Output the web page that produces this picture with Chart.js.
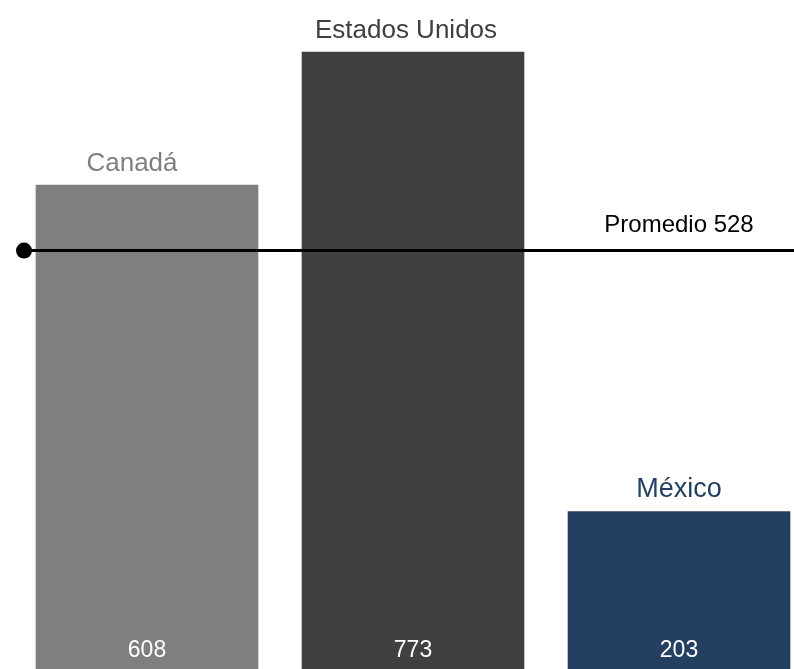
<!DOCTYPE html>
<html>
<head>
<meta charset="utf-8">
<script src="https://cdn.jsdelivr.net/npm/chart.js@4/dist/chart.umd.min.js"></script>
<style>
  html, body { margin: 0; padding: 0; background: #fff; }
  #wrap { width: 794px; height: 669px; }
</style>
</head>
<body>
<div id="wrap"><canvas id="paisesChart" width="794" height="669"></canvas></div>
<script>
var paises = ['Canadá', 'Estados Unidos', 'México'];
var valores = [608, 773, 203];
var colores = ['#7f7f7f', '#404040', '#243f60'];
var fuentesPais = [26, 26, 27];
var desplazamientoPais = [-15, -7, 0]; // corrimiento horizontal del nombre sobre la barra

var promedio = Math.round(valores.reduce(function (a, b) { return a + b; }, 0) / valores.length);

// Etiquetas de país encima de cada barra, valor dentro en la base y línea del promedio
var etiquetasPlugin = {
    id: 'etiquetas',
    afterDatasetsDraw: function (chart) {
        var ctx = chart.ctx;
        var meta = chart.getDatasetMeta(0);
        var yScale = chart.scales.y;
        var area = chart.chartArea;
        ctx.save();
        ctx.textAlign = 'center';
        meta.data.forEach(function (bar, i) {
            ctx.fillStyle = colores[i];
            ctx.font = fuentesPais[i] + 'px "Liberation Sans", Arial, sans-serif';
            ctx.textBaseline = 'bottom';
            ctx.fillText(paises[i], bar.x + desplazamientoPais[i], bar.y - 8);
            ctx.fillStyle = '#ffffff';
            ctx.font = '23px "Liberation Sans", Arial, sans-serif';
            ctx.textBaseline = 'middle';
            ctx.fillText(valores[i], bar.x, area.bottom - 18);
        });

        // línea del promedio
        var y = yScale.getPixelForValue(promedio) + 1;
        var x0 = area.left + 24;
        ctx.strokeStyle = '#000000';
        ctx.lineWidth = 3;
        ctx.beginPath();
        ctx.moveTo(x0, y);
        ctx.lineTo(area.right, y);
        ctx.stroke();
        ctx.fillStyle = '#000000';
        ctx.beginPath();
        ctx.arc(x0, y, 8, 0, Math.PI * 2);
        ctx.fill();

        var ultimo = meta.data[meta.data.length - 1];
        ctx.font = '24px "Liberation Sans", Arial, sans-serif';
        ctx.textBaseline = 'bottom';
        ctx.fillText('Promedio ' + promedio, ultimo.x, y - 13);
        ctx.restore();
    }
};

var ctx = document.getElementById('paisesChart').getContext('2d');
var myChart = new Chart(ctx, {
    type: 'bar',
    data: {
        datasets: [{
            data: valores.map(function (v, i) { return { x: i, y: v }; }),
            backgroundColor: colores,
            borderWidth: 0,
            barThickness: 222
        }]
    },
    options: {
        responsive: false,
        animation: false,
        layout: { padding: 0 },
        plugins: {
            legend: { display: false },
            tooltip: { enabled: false }
        },
        scales: {
            x: {
                type: 'linear',
                display: false,
                offset: false,
                min: -0.5526,
                max: 2.4323
            },
            y: {
                display: false,
                min: 7.6,
                max: 837.6
            }
        }
    },
    plugins: [etiquetasPlugin]
});
</script>
</body>
</html>
